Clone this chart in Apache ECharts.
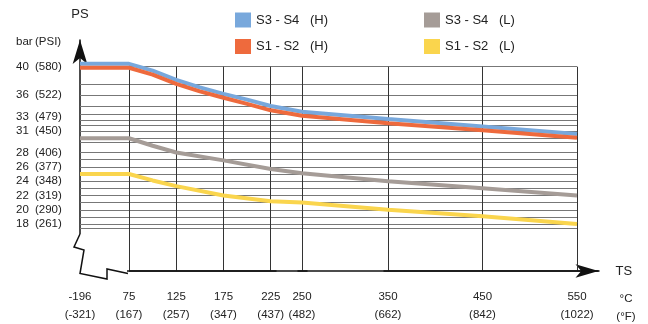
<!DOCTYPE html>
<html><head><meta charset="utf-8">
<script src="https://cdn.jsdelivr.net/npm/echarts@6/dist/echarts.min.js"></script>
<style>html,body{margin:0;padding:0;background:#fff}#c{width:648px;height:324px}</style>
</head><body><div id="c"></div>
<script>
// ---- data ----
const xTicks = [-196, 75, 125, 175, 225, 250, 350, 450, 550];
const xTicksF = ['-321', '167', '257', '347', '437', '482', '662', '842', '1022'];
const yTicks = [40, 36, 33, 31, 28, 26, 24, 22, 20, 18];
const yTicksPsi = ['580', '522', '479', '450', '406', '377', '348', '319', '290', '261'];
const hGridValues = [40, 37.5, 36, 34.5, 33.4, 32.5, 31.8, 31, 30, 29.5, 28, 27, 26, 25, 24, 23, 22, 21, 20, 19, 18, 17.4];
const tempsH = [-196, 75, 100, 125, 150, 175, 200, 225, 250, 350, 450, 550];
const s34H = [40.4, 40.4, 39.45, 38.15, 37.1, 36.2, 35.4, 34.5, 33.7, 32.7, 31.65, 30.6];
const s12H = [39.85, 39.85, 38.9, 37.6, 36.55, 35.65, 34.8, 33.9, 33.15, 32.1, 31.1, 30.05];
const tempsL = [-196, 75, 100, 125, 175, 225, 250, 350, 450, 550];
const s34L = [30, 30, 28.95, 28, 26.9, 25.7, 25.1, 24, 23, 22];
const s12L = [25, 25, 24.1, 23.3, 22.0, 21.2, 21.0, 20.0, 19.1, 18.0];
const seriesNames = ['S3 - S4 (H)', 'S1 - S2 (H)', 'S3 - S4 (L)', 'S1 - S2 (L)'];

// ---- chart ----
const FONT = '"Liberation Sans", Arial, Helvetica, sans-serif';
const TXT = '#222';
const X_MIN = -196, X_MAX = 572.75, Y_MIN = 11.44, Y_MAX = 43.73;
const pair = (xs, ys) => xs.map((x, i) => [x, ys[i]]);
const chart = echarts.init(document.getElementById('c'));

const hLines = hGridValues.map(v => [{ coord: [X_MIN, v] }, { coord: [550, v] }]);
const vLines = xTicks.slice(1).map(t => [{ coord: [t, Y_MIN] }, { coord: [t, 40] }]);
const baseLine = [[{ coord: [xTicks[1], Y_MIN] }, { coord: [X_MAX, Y_MIN] }]];

function legendFmt(name) {
  const k = name.indexOf(' (');
  return '{a|' + name.slice(0, k) + '}{b|' + name.slice(k + 1) + '}';
}
const legendRich = {
  a: { width: 54, fontSize: 13, fontFamily: FONT, color: TXT },
  b: { fontSize: 13, fontFamily: FONT, color: TXT }
};
function legendCfg(data, left) {
  return {
    data: data, left: left, top: 12.5, orient: 'vertical', padding: 0,
    itemWidth: 16, itemHeight: 15, itemGap: 11.5, icon: 'rect',
    selectedMode: false, formatter: legendFmt,
    textStyle: { rich: legendRich, fontFamily: FONT, fontSize: 13, color: TXT }
  };
}
function lineSeries(name, data, color) {
  return {
    name: name, type: 'line', data: data, symbol: 'none', showSymbol: false,
    lineStyle: { color: color, width: 4 }, itemStyle: { color: color },
    emphasis: { disabled: true }, z: 5
  };
}
const ml = (data, color, width) => ({
  type: 'line', data: [], silent: true, z: 1,
  markLine: {
    silent: true, symbol: ['none', 'none'], label: { show: false },
    emphasis: { disabled: true }, animation: false,
    lineStyle: { color: color, width: width, type: 'solid' }, data: data
  }
});

const option = {
  animation: false,
  backgroundColor: '#fff',
  grid: { left: 80, right: 49.5, top: 40, bottom: 50.5 },
  legend: [
    legendCfg([seriesNames[0], seriesNames[1]], 235),
    legendCfg([seriesNames[2], seriesNames[3]], 424)
  ],
  xAxis: {
    type: 'value', min: X_MIN, max: X_MAX,
    // schematic (non-uniform) temperature axis, as in the reference diagram
    breaks: [
      { start: -190, end: 70, gap: '7.445%' },
      { start: 230, end: 245, gap: '4.204%' },
      { start: 255, end: 345, gap: '14.77%' }
    ],
    breakArea: { show: false, itemStyle: { opacity: 0, borderWidth: 0 }, zigzagAmplitude: 0 },
    breakLabelLayout: { moveOverlap: false },
    axisLine: { show: true, onZero: false, symbol: ['none', 'arrow'], symbolSize: [10, 23],
      lineStyle: { color: '#111', width: 1.5 } },
    axisTick: { show: false },
    splitLine: { show: false },
    axisLabel: {
      customValues: xTicks, margin: 17, lineHeight: 18, fontSize: 11.5, fontFamily: FONT, color: TXT,
      formatter: v => { const i = xTicks.indexOf(v); return v + '\n(' + xTicksF[i] + ')'; }
    },
    name: 'TS', nameLocation: 'end', nameGap: 17,
    nameTextStyle: { fontSize: 13, fontFamily: FONT, color: TXT }
  },
  yAxis: {
    type: 'value', min: Y_MIN, max: Y_MAX,
    axisLine: { show: true, onZero: false, symbol: ['none', 'arrow'], symbolSize: [11, 24],
      lineStyle: { color: '#111', width: 1.5 } },
    axisTick: { show: false },
    splitLine: { show: false },
    axisLabel: {
      customValues: yTicks, margin: 18,
      formatter: v => { const i = yTicks.indexOf(v); return '{a|' + v + '}{b|(' + yTicksPsi[i] + ')}'; },
      rich: {
        a: { width: 19, align: 'left', fontSize: 11.5, fontFamily: FONT, color: TXT },
        b: { width: 27, align: 'left', fontSize: 11.5, fontFamily: FONT, color: TXT }
      }
    },
    name: 'PS', nameLocation: 'end', nameGap: 19,
    nameTextStyle: { fontSize: 13, fontFamily: FONT, color: TXT }
  },
  series: [
    ml(hLines, '#777', 1),
    ml(vLines, '#333', 1),
    ml(baseLine, '#111', 1.5),
    lineSeries(seriesNames[2], pair(tempsL, s34L), '#a59c97'),
    lineSeries(seriesNames[3], pair(tempsL, s12L), '#fad54d'),
    lineSeries(seriesNames[0], pair(tempsH, s34H), '#78a8dc'),
    lineSeries(seriesNames[1], pair(tempsH, s12H), '#ee6a3d')
  ],
  graphic: [
    { type: 'rect', z: 100, shape: { x: 74, y: 234, width: 53, height: 44 }, style: { fill: '#fff' } },
    { type: 'polyline', z: 101,
      shape: { points: [[80, 234], [74, 247], [84, 250], [80, 273.5], [107, 279], [107, 269], [128, 273.5]] },
      style: { stroke: '#111', lineWidth: 1.5, fill: null } },
    { type: 'text', z: 101, x: 16, y: 42,
      style: { text: '{a|bar}{b|(PSI)}', verticalAlign: 'middle',
        rich: {
          a: { width: 19, fontSize: 11.5, fontFamily: FONT, fill: TXT },
          b: { fontSize: 11.5, fontFamily: FONT, fill: TXT }
        } } },
    { type: 'text', z: 101, x: 626, y: 290,
      style: { text: '°C\n(°F)', align: 'center', verticalAlign: 'top', lineHeight: 18,
        fontSize: 11.5, fontFamily: FONT, fill: TXT } }
  ]
};
chart.setOption(option);
</script>
</body></html>
